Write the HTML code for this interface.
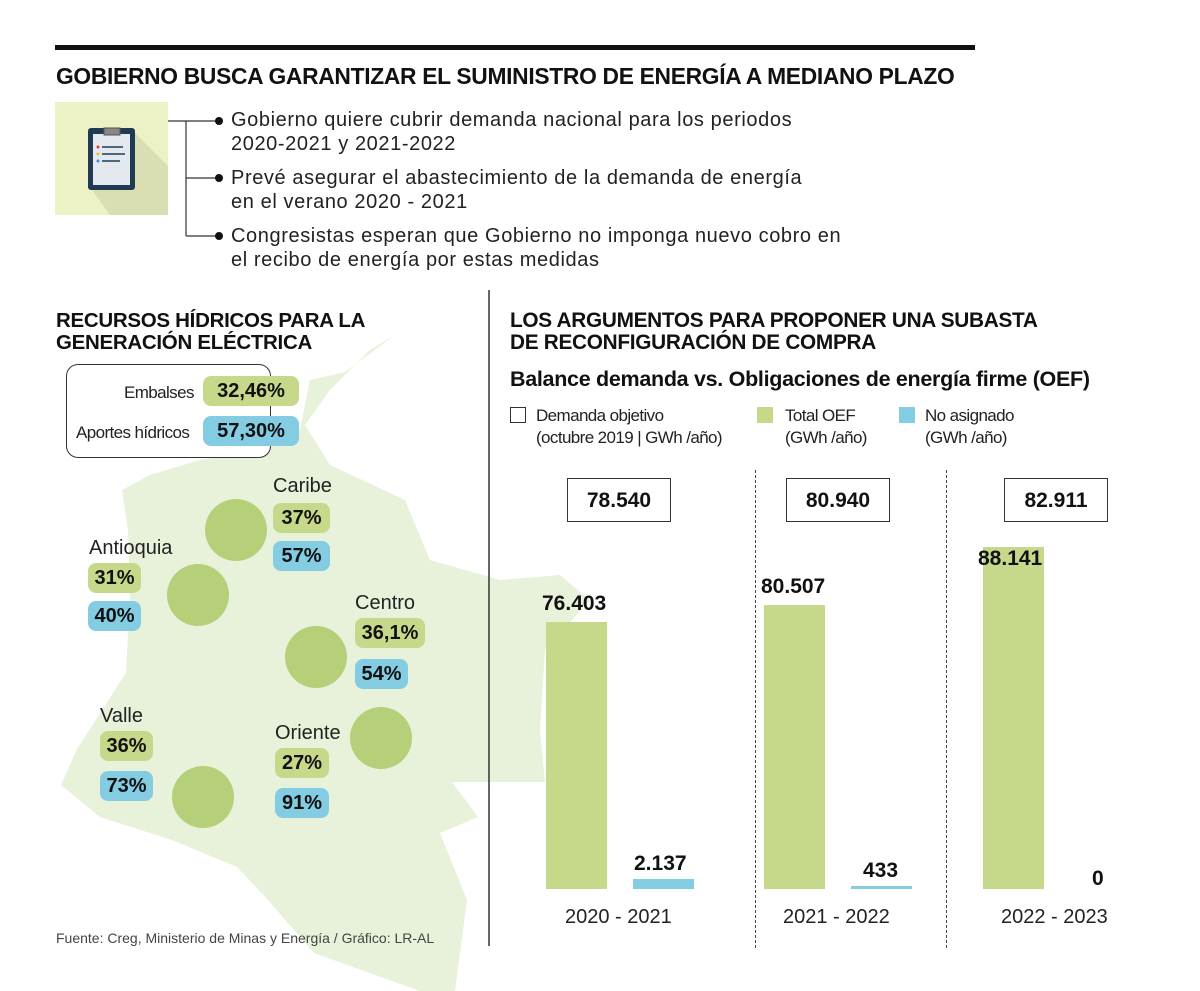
<!DOCTYPE html>
<html><head><meta charset="utf-8"><style>
body{margin:0;width:1200px;height:991px;background:#fff;position:relative;overflow:hidden;font-family:"Liberation Sans",sans-serif;color:#111}
.a{position:absolute}
.h{font-weight:bold;font-size:20px;line-height:22px;letter-spacing:-0.3px}
.t{font-size:20px;line-height:24px;letter-spacing:0.6px;color:#222}
.pill{position:absolute;border-radius:8px;font-weight:bold;font-size:20px;text-align:center;line-height:30px;height:30px}
.g{background:#c6d98a}.b{background:#83cce2}
.lab{position:absolute;font-size:20px;color:#222}
.leg{font-size:17px;line-height:22px;color:#222;letter-spacing:-0.6px}
.box{position:absolute;border:1.5px solid #333;width:104px;height:44px;line-height:44px;text-align:center;font-weight:bold;font-size:21px;top:478px;box-sizing:border-box}
.val{position:absolute;font-weight:bold;font-size:21px}
.yr{position:absolute;font-size:20px;top:906px;color:#222}
.dash{position:absolute;top:470px;height:478px;border-left:1.5px dashed #444}
</style></head><body>
<svg class="a" style="left:0;top:0" width="1200" height="991">
<polygon fill="#e8f1da" points="395,335 345,372 310,380 300,430 260,450 200,460 150,475 122,490 128,530 130,592 126,673 77,749 61,785 100,817 172,840 237,867 268,900 314,953 420,991 455,991 467,900 440,833 478,817 452,782 545,782 540,730 545,650 590,600 560,575 500,580 430,560 405,500 330,465 305,425 330,390 370,350"/>
<g fill="#b5d079">
<ellipse cx="236" cy="530" rx="31" ry="31"/>
<ellipse cx="198" cy="595" rx="31" ry="31"/>
<ellipse cx="316" cy="657" rx="31" ry="31"/>
<ellipse cx="381" cy="738" rx="31" ry="31"/>
<ellipse cx="203" cy="797" rx="31" ry="31"/>
</g>
<rect x="55" y="45" width="920" height="5" fill="#111"/>
<rect x="55" y="102" width="113" height="113" fill="#edf1c6"/>
<polygon points="130,128 168,166 168,215 110,215 92,190" fill="#d9dfb3"/>
<rect x="88" y="128" width="47" height="62" rx="3" fill="#1f3a52"/>
<rect x="93" y="134" width="37" height="51" fill="#e3e9ee"/>
<rect x="104" y="128" width="16" height="7" fill="#888" stroke="#555"/>
<circle cx="98" cy="147" r="1.5" fill="#e33"/><circle cx="98" cy="154" r="1.5" fill="#eb3"/><circle cx="98" cy="161" r="1.5" fill="#48d"/>
<line x1="102" y1="147" x2="123" y2="147" stroke="#1f3a52" stroke-width="1.5"/>
<line x1="102" y1="154" x2="125" y2="154" stroke="#1f3a52" stroke-width="1.5"/>
<line x1="102" y1="161" x2="120" y2="161" stroke="#1f3a52" stroke-width="1.5"/>
<g stroke="#333" stroke-width="1.2" fill="none">
<line x1="168" y1="121" x2="218" y2="121"/>
<line x1="186" y1="121" x2="186" y2="236"/>
<line x1="186" y1="178" x2="218" y2="178"/>
<line x1="186" y1="236" x2="218" y2="236"/>
</g>
<circle cx="219" cy="121" r="4" fill="#111"/><circle cx="219" cy="178" r="4" fill="#111"/><circle cx="219" cy="236" r="4" fill="#111"/>
<line x1="489" y1="290" x2="489" y2="946" stroke="#333" stroke-width="1.5"/>
<rect x="546" y="622" width="61" height="267" fill="#c6d98a"/>
<rect x="633" y="879" width="61" height="10" fill="#83cce2"/>
<rect x="764" y="605" width="61" height="284" fill="#c6d98a"/>
<rect x="851" y="886" width="61" height="3" fill="#83cce2"/>
<rect x="983" y="547" width="61" height="342" fill="#c6d98a"/>
</svg>
<div class="a h" style="left:56px;top:65px;font-size:22.8px">GOBIERNO BUSCA GARANTIZAR EL SUMINISTRO DE ENERGÍA A MEDIANO PLAZO</div>
<div class="a t" style="left:231px;top:108px">Gobierno quiere cubrir demanda nacional para los periodos<br>2020-2021 y 2021-2022</div>
<div class="a t" style="left:231px;top:166px">Prevé asegurar el abastecimiento de la demanda de energía<br>en el verano 2020 - 2021</div>
<div class="a t" style="left:231px;top:224px">Congresistas esperan que Gobierno no imponga nuevo cobro en<br>el recibo de energía por estas medidas</div>
<div class="a h" style="left:56px;top:310px;font-size:20.5px">RECURSOS HÍDRICOS PARA LA<br>GENERACIÓN ELÉCTRICA</div>
<div class="a" style="left:66px;top:364px;width:203px;height:92px;border:1.3px solid #333;border-radius:12px;background:#fff;"></div>
<div class="a leg" style="left:124px;top:382px;font-size:17px">Embalses</div>
<div class="a leg" style="left:76px;top:422px;font-size:17px">Aportes hídricos</div>
<div class="pill g" style="left:203px;top:376px;width:96px">32,46%</div>
<div class="pill b" style="left:203px;top:416px;width:96px">57,30%</div>
<div class="lab" style="left:273px;top:475px">Caribe</div>
<div class="pill g" style="left:273px;top:503px;width:57px">37%</div>
<div class="pill b" style="left:273px;top:541px;width:57px">57%</div>
<div class="lab" style="left:89px;top:537px">Antioquia</div>
<div class="pill g" style="left:88px;top:563px;width:53px">31%</div>
<div class="pill b" style="left:88px;top:601px;width:53px">40%</div>
<div class="lab" style="left:355px;top:592px">Centro</div>
<div class="pill g" style="left:355px;top:618px;width:70px">36,1%</div>
<div class="pill b" style="left:355px;top:659px;width:53px">54%</div>
<div class="lab" style="left:100px;top:705px">Valle</div>
<div class="pill g" style="left:100px;top:731px;width:53px">36%</div>
<div class="pill b" style="left:100px;top:771px;width:53px">73%</div>
<div class="lab" style="left:275px;top:722px">Oriente</div>
<div class="pill g" style="left:275px;top:748px;width:54px">27%</div>
<div class="pill b" style="left:275px;top:788px;width:54px">91%</div>
<div class="a" style="left:56px;top:930px;font-size:14px;color:#444">Fuente: Creg, Ministerio de Minas y Energía / Gráfico: LR-AL</div>
<div class="a h" style="left:510px;top:310px;font-size:20.8px">LOS ARGUMENTOS PARA PROPONER UNA SUBASTA<br>DE RECONFIGURACIÓN DE COMPRA</div>
<div class="a h" style="left:510px;top:368px;font-size:21.5px">Balance demanda vs. Obligaciones de energía firme (OEF)</div>
<div class="a" style="left:510px;top:407px;width:14px;height:14px;border:1.3px solid #333"></div>
<div class="a leg" style="left:536px;top:405px">Demanda objetivo<br>(octubre 2019 | GWh /año)</div>
<div class="a g" style="left:757px;top:407px;width:16px;height:16px"></div>
<div class="a leg" style="left:785px;top:405px">Total OEF<br>(GWh /año)</div>
<div class="a b" style="left:899px;top:407px;width:16px;height:16px"></div>
<div class="a leg" style="left:925px;top:405px">No asignado<br>(GWh /año)</div>
<div class="dash" style="left:755px"></div>
<div class="dash" style="left:946px"></div>
<div class="box" style="left:567px">78.540</div>
<div class="box" style="left:786px">80.940</div>
<div class="box" style="left:1004px">82.911</div>
<div class="val" style="left:542px;top:592px">76.403</div>
<div class="val" style="left:634px;top:852px">2.137</div>
<div class="val" style="left:761px;top:575px">80.507</div>
<div class="val" style="left:863px;top:859px">433</div>
<div class="val" style="left:978px;top:547px">88.141</div>
<div class="val" style="left:1092px;top:867px">0</div>
<div class="yr" style="left:565px">2020 - 2021</div>
<div class="yr" style="left:783px">2021 - 2022</div>
<div class="yr" style="left:1001px">2022 - 2023</div>
</body></html>
